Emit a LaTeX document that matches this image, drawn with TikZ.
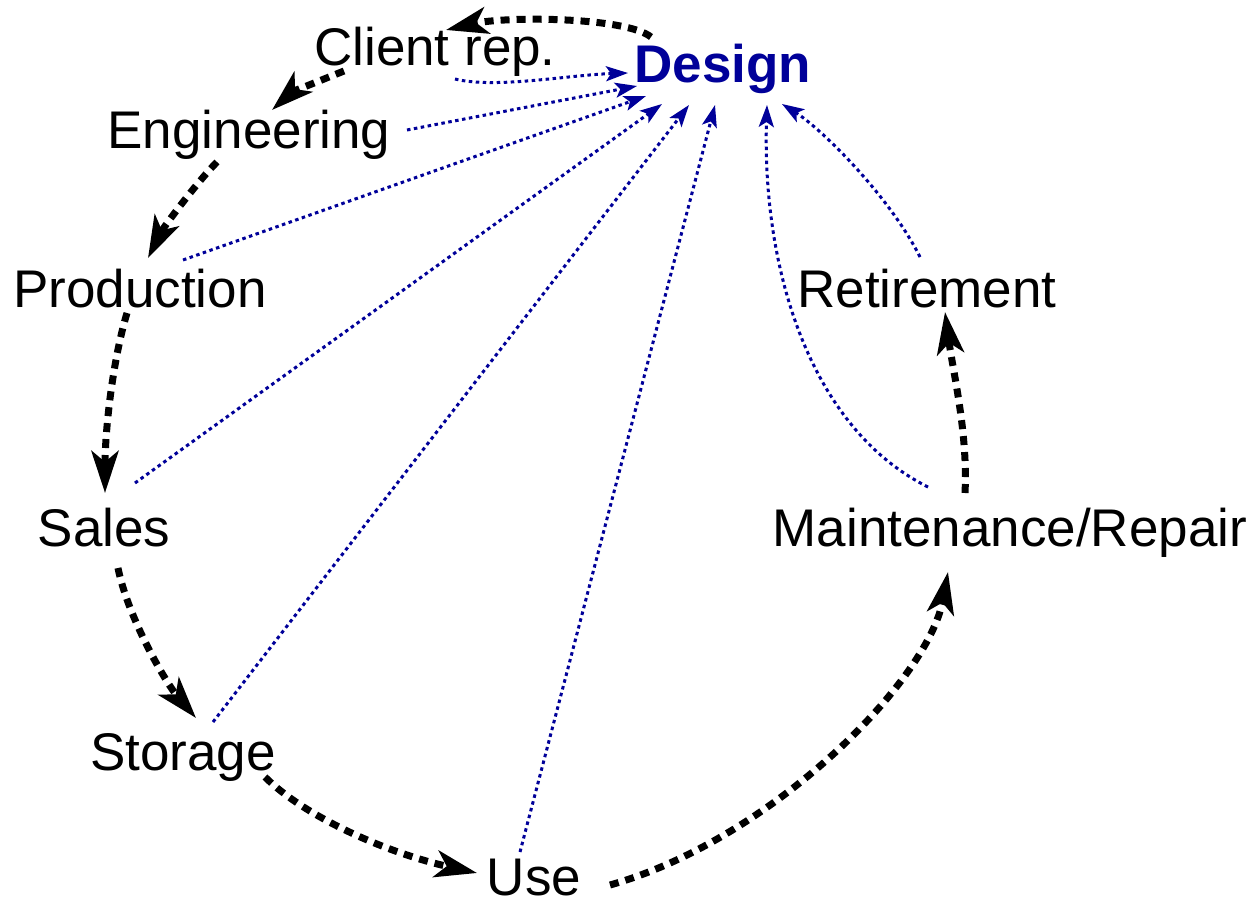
\documentclass[tikz,border=0pt]{standalone}
\usepackage{fontspec}
\setmainfont{Liberation Sans}
\usetikzlibrary{arrows.meta}
\definecolor{dblue}{RGB}{0,0,153}
\tikzset{
  lbl/.style={inner sep=0pt, anchor=base, font=\fontsize{53}{60}\selectfont},
  flow/.style={line width=7pt, dash pattern=on 9pt off 7pt,
    -{Stealth[length=42pt, width=27pt, inset=11pt]}},
  fb/.style={dblue, line width=3pt, dash pattern=on 3.5pt off 3.5pt,
    -{Stealth[length=22pt, width=15pt, inset=5pt]}}
}
\begin{document}
\begin{tikzpicture}[x=1pt,y=-1pt]
\useasboundingbox (0,0) rectangle (1259,902);
\node[lbl, text=dblue, font=\fontsize{53}{60}\selectfont\bfseries] (design) at (723,82) {Design};
\node[lbl] (client) at (435,65) {Client rep.};
\node[lbl] (eng) at (249,148) {Engineering};
\node[lbl] (prod) at (140,307) {Production};
\node[lbl] (sales) at (104,546) {Sales};
\node[lbl] (storage) at (183,770) {Storage};
\node[lbl] (use) at (534,895) {Use};
\node[lbl] (maint) at (1010,546) {Maintenance/Repair};
\node[lbl] (retire) at (927,307) {Retirement};

% main life-cycle (black)
\draw[flow] ([shift={(-72,-45)}]design.base) .. controls +(-25,-20) and +(60,-14) .. ([shift={(11,-35)}]client.base);
\draw[flow] ([shift={(-91,6)}]client.base) .. controls +(-20,8) and +(20,-18) .. ([shift={(23,-38)}]eng.base);
\draw[flow] ([shift={(-32,14)}]eng.base) .. controls +(-20,20) and +(15,-30) .. ([shift={(8,-49)}]prod.base);
\draw[flow] ([shift={(-13,6)}]prod.base) .. controls +(-15,50) and +(0,-60) .. ([shift={(1,-53)}]sales.base);
\draw[flow] ([shift={(14,22)}]sales.base) .. controls +(10,50) and +(-30,-35) .. ([shift={(13,-52)}]storage.base);
\draw[flow] ([shift={(82,7)}]storage.base) .. controls +(40,40) and +(-90,-20) .. ([shift={(-57,-22)}]use.base);
\draw[flow] ([shift={(76,-10)}]use.base) .. controls +(160,-45) and +(-20,110) .. ([shift={(-62,26)}]maint.base);
\draw[flow] ([shift={(-45,-53)}]maint.base) .. controls +(3,-60) and +(8,60) .. ([shift={(18,5)}]retire.base);

% feedback to design (blue)
\draw[fb] ([shift={(20,14)}]client.base) .. controls +(40,10) and +(-60,2) .. ([shift={(-95,-9)}]design.base);
\draw[fb] ([shift={(158,-18)}]eng.base) -- ([shift={(-86,4)}]design.base);
\draw[fb] ([shift={(43,-47)}]prod.base) -- ([shift={(-77,14)}]design.base);
\draw[fb] ([shift={(31,-63)}]sales.base) -- ([shift={(-61,22)}]design.base);
\draw[fb] ([shift={(30,-48)}]storage.base) -- ([shift={(-34,23)}]design.base);
\draw[fb] ([shift={(-14,-43)}]use.base) -- ([shift={(-8,23)}]design.base);
\draw[fb] ([shift={(-82,-59)}]maint.base) .. controls +(-120,-60) and +(-5,160) .. ([shift={(44,23)}]design.base);
\draw[fb] ([shift={(-7,-50)}]retire.base) .. controls +(-30,-60) and +(40,25) .. ([shift={(59,22)}]design.base);
\end{tikzpicture}
\end{document}
